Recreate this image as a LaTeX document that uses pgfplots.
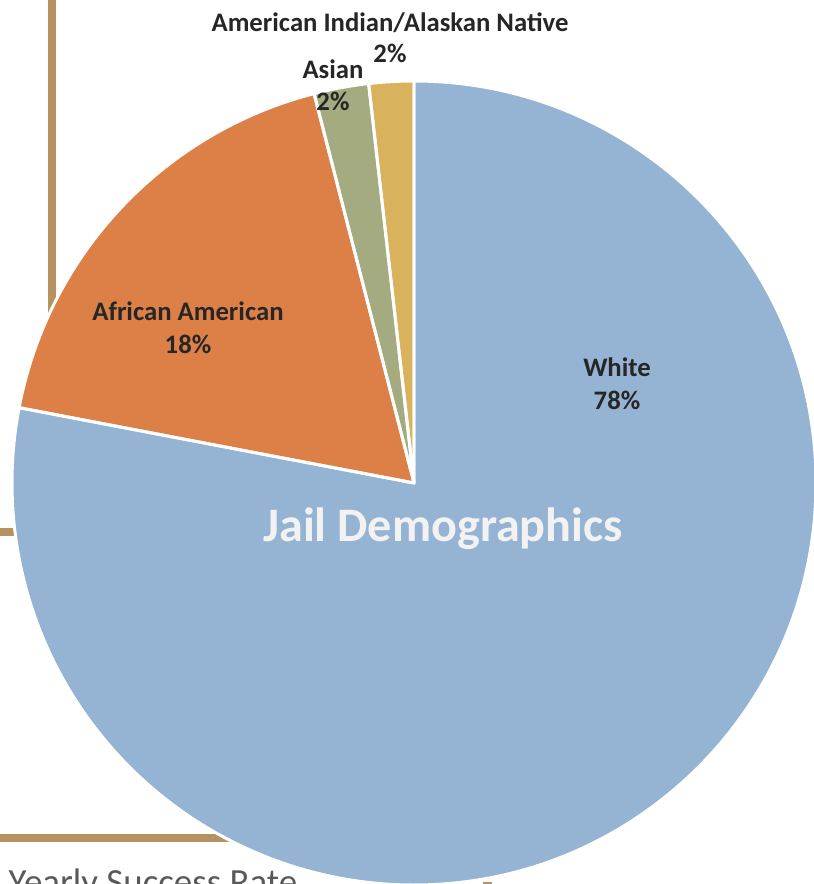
\documentclass[border=0pt]{standalone}
\usepackage{fontspec}
\setmainfont{Carlito}
\usepackage{pgfplots}
\usepackage{pgfplotstable}
\pgfplotsset{compat=1.18}
\definecolor{cWhite}{HTML}{95B3D3}
\definecolor{cAfAm}{HTML}{DD8047}
\definecolor{cAsian}{HTML}{A5AB81}
\definecolor{cAmInd}{HTML}{D8B25C}
\definecolor{cLine}{HTML}{B5925F}
\definecolor{cLab}{HTML}{262626}
\definecolor{cTitle}{HTML}{F2F2F2}
\definecolor{cGray}{HTML}{595959}
\pgfplotstableread{
label value
White 78
AfricanAmerican 18
Asian 2.2
AmericanIndian 1.8
}\pietable
\begin{document}
\begin{tikzpicture}
\pgfplotstablegetelem{0}{value}\of\pietable\let\vA\pgfplotsretval
\pgfplotstablegetelem{1}{value}\of\pietable\let\vB\pgfplotsretval
\pgfplotstablegetelem{2}{value}\of\pietable\let\vC\pgfplotsretval
\pgfplotstablegetelem{3}{value}\of\pietable\let\vD\pgfplotsretval
\pgfmathsetmacro\aA{90}
\pgfmathsetmacro\aB{\aA-3.6*\vA}
\pgfmathsetmacro\aC{\aB-3.6*\vB}
\pgfmathsetmacro\aD{\aC-3.6*\vC}
\pgfmathsetmacro\aE{\aD-3.6*\vD}
\def\R{4.02cm}
\begin{axis}[name=ax,width=8.14cm,height=8.84cm,scale only axis,
  xmin=0,xmax=814,ymin=0,ymax=884,hide axis,clip=true]
% background frame lines
\draw[cLine,line width=0.08cm] (axis cs:52,884) -- (axis cs:52,560);
\draw[cLine,line width=0.08cm] (axis cs:0,352) -- (axis cs:100,352);
\draw[cLine,line width=0.08cm] (axis cs:0,46) -- (axis cs:300,46);
\draw[cLine,line width=0.03cm] (axis cs:483,0.5) -- (axis cs:492,0.5);
% slices
\fill[cWhite] (axis cs:414,401) -- ++(\aA:\R) arc[start angle=\aA,end angle=\aB,radius=\R] -- cycle;
\fill[cAfAm] (axis cs:414,401) -- ++(\aB:\R) arc[start angle=\aB,end angle=\aC,radius=\R] -- cycle;
\fill[cAsian] (axis cs:414,401) -- ++(\aC:\R) arc[start angle=\aC,end angle=\aD,radius=\R] -- cycle;
\fill[cAmInd] (axis cs:414,401) -- ++(\aD:\R) arc[start angle=\aD,end angle=\aE,radius=\R] -- cycle;
\draw[white,line width=0.85pt,line join=round] (axis cs:414,401) -- ++(\aA:\R) arc[start angle=\aA,end angle=\aB,radius=\R] -- cycle;
\draw[white,line width=0.85pt,line join=round] (axis cs:414,401) -- ++(\aB:\R) arc[start angle=\aB,end angle=\aC,radius=\R] -- cycle;
\draw[white,line width=0.85pt,line join=round] (axis cs:414,401) -- ++(\aC:\R) arc[start angle=\aC,end angle=\aD,radius=\R] -- cycle;
\draw[white,line width=0.85pt,line join=round] (axis cs:414,401) -- ++(\aD:\R) arc[start angle=\aD,end angle=\aE,radius=\R] -- cycle;
% labels
\tikzset{lab/.style={anchor=base,inner sep=0pt,text=cLab,font=\fontsize{7.6}{9}\selectfont\bfseries}}
\node[lab] at (axis cs:617,508) {White};
\node[lab] at (axis cs:617,475) {78\%};
\node[lab] at (axis cs:188,564) {African American};
\node[lab] at (axis cs:188,531) {18\%};
\node[lab] at (axis cs:333,806) {Asian};
\node[lab] at (axis cs:333,774) {2\%};
\node[lab] at (axis cs:390,853) {American Indian/Alaskan Native};
\node[lab] at (axis cs:390,822) {2\%};
\node[anchor=base,inner sep=0pt,text=cTitle,font=\fontsize{13.7}{16}\selectfont\bfseries] at (axis cs:443,343) {Jail Demographics};
\node[anchor=base west,inner sep=0pt,text=cGray,font=\fontsize{10.5}{12}\selectfont] at (axis cs:8,-10) {Yearly Success Rate};
\end{axis}
\pgfresetboundingbox
\useasboundingbox (ax.south west) rectangle (ax.north east);
\end{tikzpicture}
\end{document}
